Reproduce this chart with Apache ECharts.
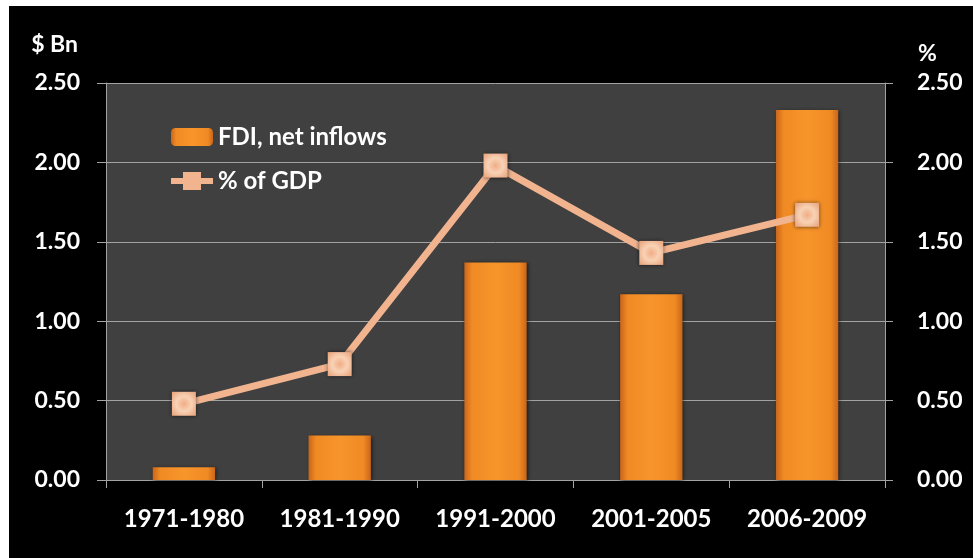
<!DOCTYPE html>
<html>
<head>
<meta charset="utf-8">
<script src="https://cdn.jsdelivr.net/npm/echarts@6/dist/echarts.min.js"></script>
<style>
  html, body { margin: 0; padding: 0; background: #fff; }
  #chart { position: absolute; left: 9px; top: 6px; width: 964px; height: 552px; }
</style>
</head>
<body>
<div id="chart"></div>
<script>
// 时间段
var categories = ['1971-1980', '1981-1990', '1991-2000', '2001-2005', '2006-2009'];
// FDI 净流入 ($ Bn)
var fdiValues = [0.08, 0.28, 1.37, 1.17, 2.33];
// 占 GDP 百分比
var gdpShare = [0.48, 0.73, 1.98, 1.43, 1.67];
// 两个轴的刻度
var axisMin = 0;
var axisMax = 2.5;
var axisStep = 0.5;

var font = 'Lato';
var weight = 'bold';
var gridColor = '#a3a3a3';
var lineColor = '#f2b48f';

var myChart = echarts.init(document.getElementById('chart'));

var markerColor = new echarts.graphic.RadialGradient(0.5, 0.5, 0.7, [
  { offset: 0, color: '#f1ad86' },
  { offset: 0.45, color: '#f8d2b5' },
  { offset: 1, color: '#e7a078' }
]);

// 图例里的粗线 + 方块
var lineIcon = 'path://M0,6 L12,6 L12,0 L30,0 L30,6 L42,6 L42,12 L30,12 L30,18 L12,18 L12,12 L0,12 Z';

var option = {
  backgroundColor: '#000',
  animation: false,
  textStyle: { fontFamily: font },
  grid: {
    left: 97,
    top: 77,
    right: 88,
    bottom: 78,
    show: true,
    backgroundColor: '#404040',
    borderWidth: 0
  },
  legend: {
    orient: 'vertical',
    left: 157,
    top: 114,
    itemWidth: 42,
    itemHeight: 18,
    itemGap: 20,
    textStyle: { color: '#fff', fontSize: 24, fontWeight: weight, fontFamily: font },
    data: [
      { name: 'FDI, net inflows' },
      { name: '% of GDP', icon: lineIcon, itemStyle: { color: lineColor } }
    ]
  },
  xAxis: {
    type: 'category',
    data: categories,
    axisLine: { lineStyle: { color: gridColor, width: 1 } },
    axisTick: { show: true, length: 8, lineStyle: { color: gridColor } },
    axisLabel: { color: '#fff', fontSize: 24, fontWeight: weight, margin: 27, interval: 0, fontFamily: font }
  },
  yAxis: [
    {
      type: 'value',
      min: axisMin,
      max: axisMax,
      interval: axisStep,
      name: '$ Bn',
      nameLocation: 'end',
      nameGap: 38,
      nameTextStyle: { color: '#fff', fontSize: 23, fontWeight: weight, align: 'right', verticalAlign: 'middle', padding: [0, 28, 0, 0], fontFamily: font },
      axisLine: { show: true, lineStyle: { color: gridColor } },
      axisTick: { show: true, length: 9, lineStyle: { color: gridColor } },
      axisLabel: { color: '#fff', fontSize: 23, fontWeight: weight, margin: 26, fontFamily: font,
        formatter: function (v) { return v.toFixed(2); } },
      splitLine: { show: true, lineStyle: { color: gridColor, width: 1 } }
    },
    {
      type: 'value',
      min: axisMin,
      max: axisMax,
      interval: axisStep,
      name: '%',
      nameLocation: 'end',
      nameGap: 29,
      nameTextStyle: { color: '#fff', fontSize: 23, fontWeight: weight, align: 'left', verticalAlign: 'middle', padding: [0, 0, 0, 33], fontFamily: font },
      axisLine: { show: true, lineStyle: { color: gridColor } },
      axisTick: { show: true, length: 8, lineStyle: { color: gridColor } },
      axisLabel: { color: '#fff', fontSize: 23, fontWeight: weight, margin: 32, fontFamily: font,
        formatter: function (v) { return v.toFixed(2); } },
      splitLine: { show: false }
    }
  ],
  series: [
    {
      name: 'FDI, net inflows',
      type: 'bar',
      yAxisIndex: 0,
      barWidth: '40%',
      data: fdiValues,
      itemStyle: {
        color: new echarts.graphic.LinearGradient(0, 0, 1, 0, [
          { offset: 0, color: '#c9661a' },
          { offset: 0.12, color: '#f08a24' },
          { offset: 0.5, color: '#f7952a' },
          { offset: 0.88, color: '#f08a24' },
          { offset: 1, color: '#c9661a' }
        ]),
        shadowBlur: 4,
        shadowColor: 'rgba(0,0,0,0.6)',
        shadowOffsetX: 1,
        shadowOffsetY: 1
      }
    },
    {
      name: '% of GDP',
      type: 'line',
      yAxisIndex: 1,
      data: gdpShare,
      symbol: 'rect',
      symbolSize: 24,
      lineStyle: { color: lineColor, width: 7 },
      itemStyle: {
        color: markerColor,
        borderWidth: 0,
        shadowBlur: 4,
        shadowColor: 'rgba(0,0,0,0.6)'
      },
      z: 5
    }
  ]
};

myChart.setOption(option);
</script>
</body>
</html>
